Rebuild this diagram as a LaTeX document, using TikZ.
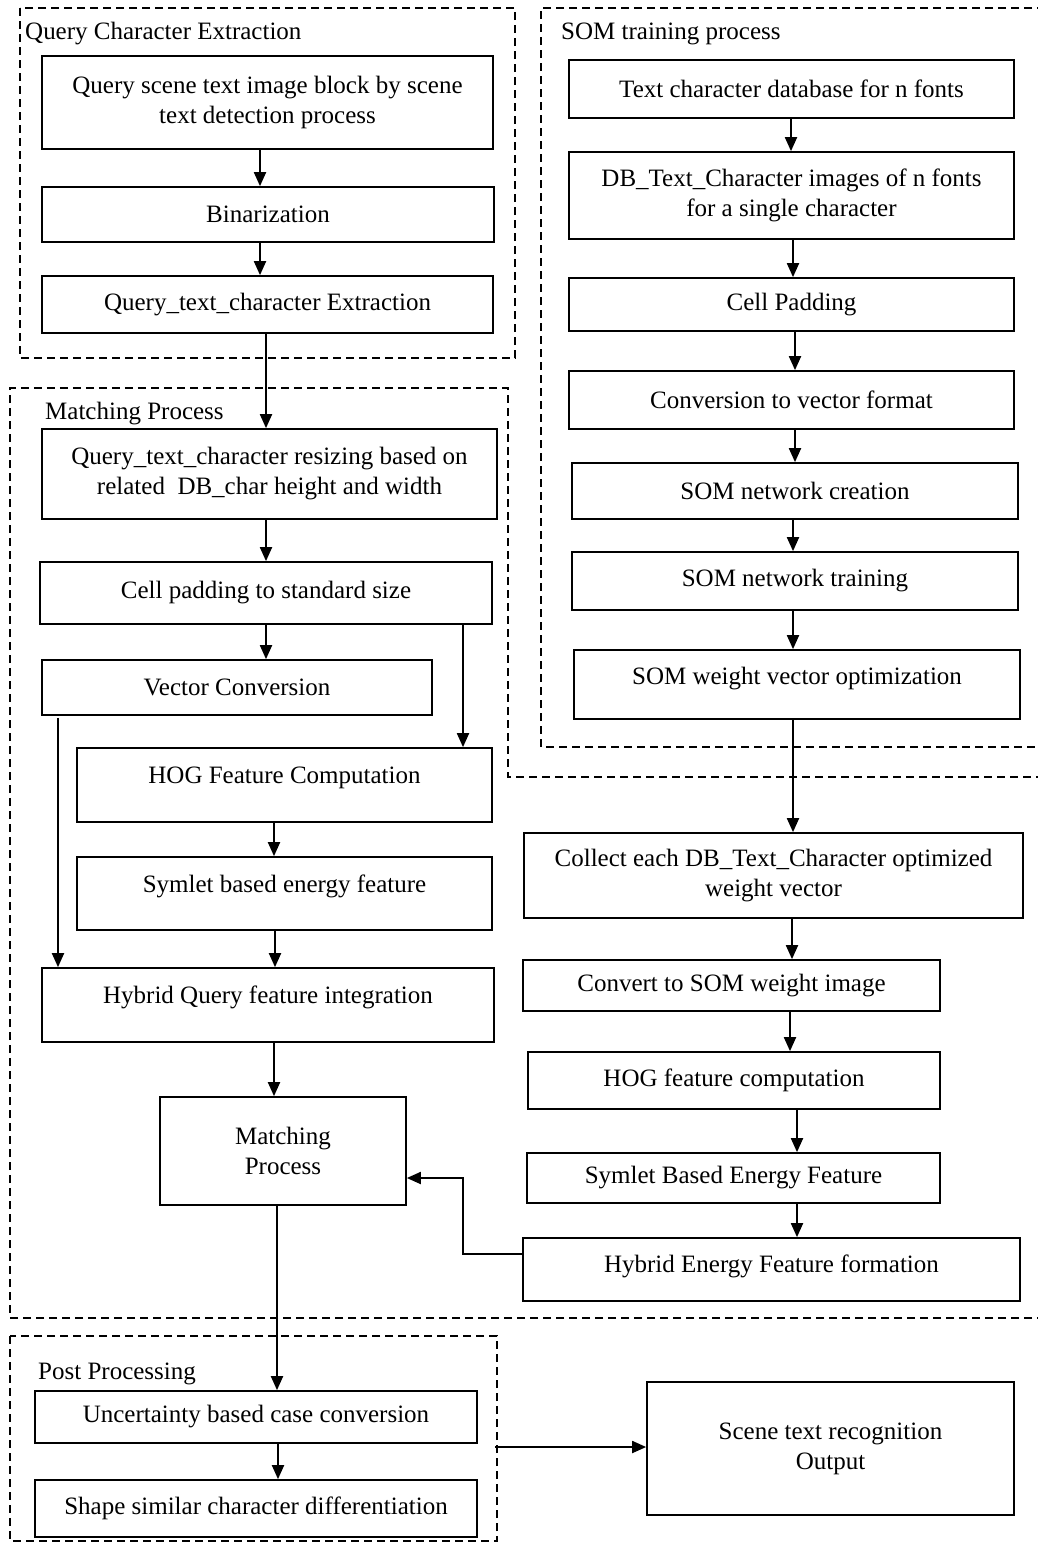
\documentclass[tikz,border=0pt]{standalone}
\usepackage{fontspec}
\setmainfont{Liberation Serif}
\usetikzlibrary{arrows.meta}

\begin{document}
\begin{tikzpicture}[x=1pt, y=-1pt,
 box/.style={draw, line width=1.7pt, align=center, inner sep=0pt, font=\fontsize{25}{30}\selectfont},
 frame/.style={line width=2.2pt, dash pattern=on 8pt off 5pt},
 title/.style={anchor=west, inner sep=0pt, font=\fontsize{25}{30}\selectfont},
 arr/.style={line width=1.9pt, -{Triangle[length=14pt,width=12pt]}}]
%\draw[help lines] (0,0) grid[step=100] (1038,1543);
\useasboundingbox (0,0) rectangle (1038,1543);

% dashed frames
\draw[frame] (20,8) rectangle (515,358);
\draw[frame] (1045,8) -- (541,8) -- (541,747) -- (1045,747);
\draw[frame] (1045,1318) -- (10,1318) -- (10,388) -- (508,388) -- (508,777) -- (1045,777);
\draw[frame] (10,1336) rectangle (497,1541);

\node[title] (qcetitle) at (25,34) {Query Character Extraction};
\node[title] (somtitle) at (561,34) {SOM training process};
\node[title] (mattitle) at (45,414) {Matching Process};
\node[title] (posttitle) at (38,1374) {Post Processing};

% left column
\node[box, minimum width=451, minimum height=93] (qscene) at (267.5,102.5) {Query scene text image block by scene\\text detection process};
\node[box, minimum width=452, minimum height=55] (binar) at (268,214.5) {Binarization};
\node[box, minimum width=451, minimum height=57] (qext) at (267.5,304.5) {Query\_text\_character Extraction};

\node[box, minimum width=455, minimum height=90] (resize) at (269.5,474) {Query\_text\_character resizing based on\\related\ \ DB\_char height and width};
\node[box, minimum width=452, minimum height=62] (cellpad) at (266,593) {Cell padding to standard size};
\node[box, minimum width=390, minimum height=55] (vecconv) at (237,687.5) {Vector Conversion};
\node[box, minimum width=415, text height=35, text depth=39] (hog) at (284.5,785) {HOG Feature Computation};
\node[box, minimum width=415, text height=35, text depth=38] (symlet) at (284.5,893.5) {Symlet based energy feature};
\node[box, minimum width=452, text height=35, text depth=39] (hybridq) at (268,1005) {Hybrid Query feature integration};
\node[box, minimum width=246, minimum height=108] (match) at (283,1151) {Matching\\Process};

\node[box, minimum width=442, minimum height=52] (uncert) at (256,1417) {Uncertainty based case conversion};
\node[box, minimum width=442, minimum height=57] (shape) at (256,1508.5) {Shape similar character differentiation};
\node[box, minimum width=367, minimum height=133] (output) at (830.5,1448.5) {Scene text recognition\\Output};

% right column
\node[box, minimum width=445, minimum height=58] (tcdb) at (791.5,89) {Text character database for n fonts};
\node[box, minimum width=445, minimum height=87] (dbimg) at (791.5,195.5) {DB\_Text\_Character images of n fonts\\for a single character};
\node[box, minimum width=445, minimum height=53] (rcell) at (791.5,304.5) {Cell Padding};
\node[box, minimum width=445, minimum height=58] (conv) at (791.5,400) {Conversion to vector format};
\node[box, minimum width=446, minimum height=56] (somc) at (795,491) {SOM network creation};
\node[box, minimum width=446, minimum height=58] (somt) at (795,581) {SOM network training};
\node[box, minimum width=446, text height=34, text depth=35] (somw) at (797,684.5) {SOM weight vector optimization};

\node[box, minimum width=499, minimum height=85] (collect) at (773.5,875.5) {Collect each DB\_Text\_Character optimized\\weight vector};
\node[box, minimum width=417, minimum height=51] (tosom) at (731.5,985.5) {Convert to SOM weight image};
\node[box, minimum width=412, minimum height=57] (rhog) at (734,1080.5) {HOG feature computation};
\node[box, minimum width=413, minimum height=50] (rsym) at (733.5,1178) {Symlet Based Energy Feature};
\node[box, minimum width=497, text height=34, text depth=29] (hef) at (771.5,1269.5) {Hybrid Energy Feature formation};

\coordinate (postedge) at (495,1447);

% arrows left
\draw[arr] (qscene.south -| 260,0) -- (binar.north -| 260,0);
\draw[arr] (binar.south -| 260,0) -- (qext.north -| 260,0);
\draw[arr] (qext.south -| 266,0) -- (resize.north -| 266,0);
\draw[arr] (resize.south -| 266,0) -- (cellpad.north -| 266,0);
\draw[arr] (cellpad.south -| 266,0) -- (vecconv.north -| 266,0);
\draw[arr] (cellpad.south -| 463,0) -- (hog.north -| 463,0);
\draw[arr] (vecconv.south -| 58,0) ++(0,2) -- (hybridq.north -| 58,0);
\draw[arr] (hog.south -| 274,0) -- (symlet.north -| 274,0);
\draw[arr] (symlet.south -| 275,0) -- (hybridq.north -| 275,0);
\draw[arr] (hybridq.south -| 274,0) -- (match.north -| 274,0);
\draw[arr] (match.south -| 277,0) -- (uncert.north -| 277,0);
\draw[arr] (uncert.south -| 278,0) -- (shape.north -| 278,0);
\draw[arr] (postedge) -- (output.west |- postedge);

% arrows right
\draw[arr] (tcdb.south -| 791,0) -- (dbimg.north -| 791,0);
\draw[arr] (dbimg.south -| 793,0) -- (rcell.north -| 793,0);
\draw[arr] (rcell.south -| 795,0) -- (conv.north -| 795,0);
\draw[arr] (conv.south -| 795,0) -- (somc.north -| 795,0);
\draw[arr] (somc.south -| 793,0) -- (somt.north -| 793,0);
\draw[arr] (somt.south -| 793,0) -- (somw.north -| 793,0);
\draw[arr] (somw.south -| 793,0) -- (collect.north -| 793,0);
\draw[arr] (collect.south -| 792,0) -- (tosom.north -| 792,0);
\draw[arr] (tosom.south -| 790,0) -- (rhog.north -| 790,0);
\draw[arr] (rhog.south -| 797,0) -- (rsym.north -| 797,0);
\draw[arr] (rsym.south -| 797,0) -- (hef.north -| 797,0);
\draw[arr] (hef.west |- 0,1254) -| (463,1178) -- (match.east |- 0,1178);

\end{tikzpicture}
\end{document}
